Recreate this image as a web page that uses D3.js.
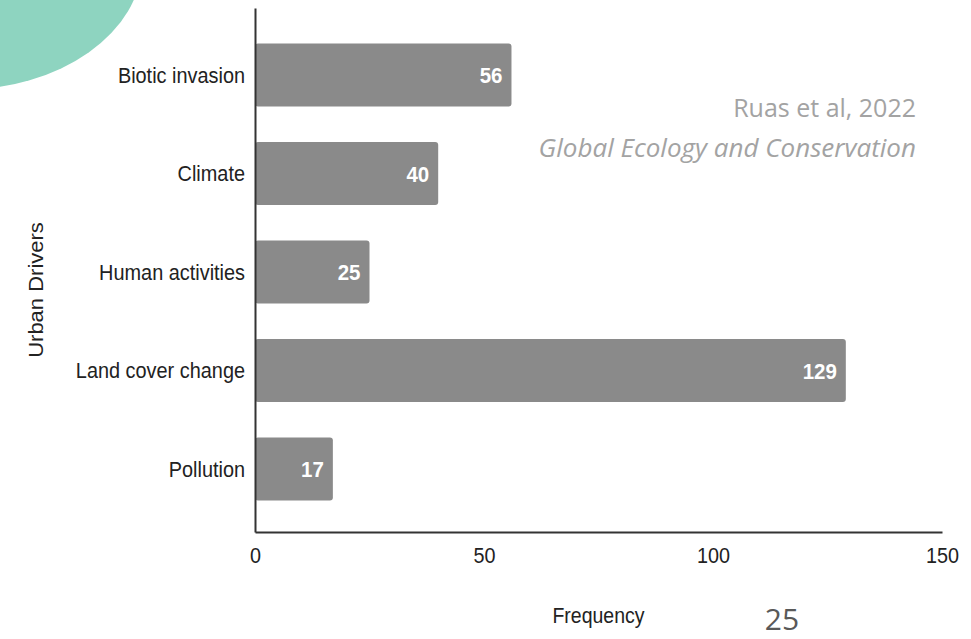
<!DOCTYPE html>
<html>
<head>
<meta charset="utf-8">
<script src="https://cdn.jsdelivr.net/npm/d3@7"></script>
<style>
  html, body { margin: 0; padding: 0; background: #fff; }
  svg { display: block; }
</style>
</head>
<body>
<svg id="chart" width="971" height="639"></svg>
<script>
// Urban drivers and how often each was reported
const categories = ["Biotic invasion", "Climate", "Human activities", "Land cover change", "Pollution"];
const frequencies = [56, 40, 25, 129, 17];
const xTickValues = [0, 50, 100, 150];
const xTitle = "Frequency";
const yTitle = "Urban Drivers";
const citationLines = ["Ruas et al, 2022", "Global Ecology and Conservation"];
const pageNumber = "25";

const rows = categories.map((c, i) => ({ category: c, value: frequencies[i] }));

const svg = d3.select("#chart");
const labelFont = "'Liberation Sans', Arial, sans-serif";
const slideFont = "'Open Sans', 'Lato', sans-serif";
const stretch = 1.1; // labels are drawn slightly taller than wide

// decorative corner shape
svg.append("ellipse")
  .attr("cx", -40).attr("cy", -38)
  .attr("rx", 182).attr("ry", 128)
  .attr("fill", "#8ed4c0");

const x = d3.scaleLinear().domain([0, 150]).range([255, 942]);
const y = d3.scaleBand().domain(categories).range([8, 532])
  .paddingInner(0.36).paddingOuter(0.34).align(0.53);

// bars
svg.append("g").selectAll("rect")
  .data(rows)
  .join("rect")
  .attr("x", x(0))
  .attr("y", d => y(d.category))
  .attr("width", d => x(d.value) - x(0))
  .attr("height", y.bandwidth())
  .attr("rx", 3)
  .attr("fill", "#8a8a8a");

// value labels inside the bar ends
svg.append("g").selectAll("text")
  .data(rows)
  .join("text")
  .attr("transform", d => `translate(${x(d.value) - 9},${y(d.category) + y.bandwidth() / 2}) scale(1,${stretch})`)
  .attr("text-anchor", "end")
  .attr("dy", "0.36em")
  .attr("fill", "#fff")
  .attr("font-family", labelFont)
  .attr("font-weight", "bold")
  .attr("font-size", 20.5)
  .text(d => d.value);

// y axis
const yAxis = svg.append("g")
  .attr("transform", `translate(${x(0)},0)`)
  .call(d3.axisLeft(y).tickSize(0).tickPadding(10));
yAxis.select(".domain").attr("stroke", "#333").attr("stroke-width", 2);
yAxis.selectAll(".tick text")
  .attr("font-family", labelFont)
  .attr("font-size", 19.9)
  .attr("fill", "#222")
  .attr("dy", "0.36em")
  .attr("transform", `scale(1,${stretch})`);

// x axis
const xAxis = svg.append("g")
  .attr("transform", `translate(0,${y.range()[1]})`)
  .call(d3.axisBottom(x).tickValues(xTickValues).tickSize(0));
xAxis.select(".domain").attr("stroke", "#333").attr("stroke-width", 2);
xAxis.selectAll(".tick text")
  .attr("font-family", labelFont)
  .attr("font-size", 19.8)
  .attr("fill", "#222")
  .attr("y", 31 / stretch)
  .attr("dy", 0)
  .attr("transform", `scale(1,${stretch})`);

// axis titles
svg.append("text")
  .attr("transform", `translate(${(x(0) + x(150)) / 2},623) scale(1,${stretch})`)
  .attr("text-anchor", "middle")
  .attr("font-family", labelFont)
  .attr("font-size", 19.5)
  .attr("fill", "#222")
  .text(xTitle);

svg.append("text")
  .attr("transform", `translate(43,${(y.range()[0] + y.range()[1]) / 2 + 20}) rotate(-90) scale(${stretch},1)`)
  .attr("text-anchor", "middle")
  .attr("font-family", labelFont)
  .attr("font-size", 20)
  .attr("fill", "#222")
  .text(yTitle);

// source note
svg.append("text")
  .attr("x", 916).attr("y", 117)
  .attr("text-anchor", "end")
  .attr("font-family", slideFont)
  .attr("font-size", 25)
  .attr("fill", "#a3a3a3")
  .text(citationLines[0]);

svg.append("text")
  .attr("x", 916).attr("y", 157)
  .attr("text-anchor", "end")
  .attr("font-family", slideFont)
  .attr("font-style", "italic")
  .attr("font-size", 26)
  .attr("fill", "#a3a3a3")
  .text(citationLines[1]);

// slide number
svg.append("text")
  .attr("x", 782).attr("y", 630)
  .attr("text-anchor", "middle")
  .attr("font-family", slideFont)
  .attr("font-size", 30)
  .attr("fill", "#595959")
  .text(pageNumber);
</script>
</body>
</html>
